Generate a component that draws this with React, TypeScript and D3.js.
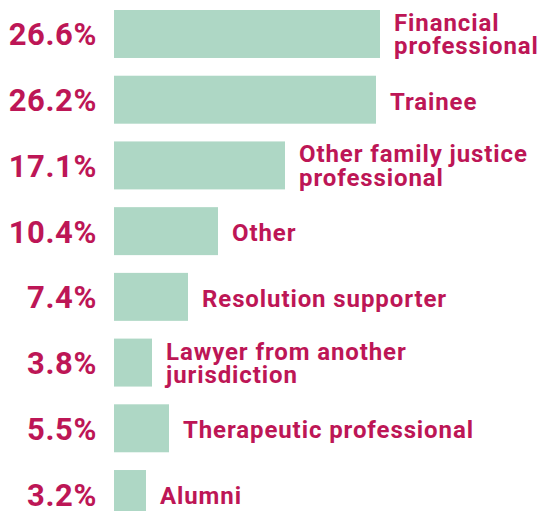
import React from "react";
import * as d3 from "d3";

// chart data
const categories = [
  "Financial professional",
  "Trainee",
  "Other family justice professional",
  "Other",
  "Resolution supporter",
  "Lawyer from another jurisdiction",
  "Therapeutic professional",
  "Alumni",
];
const shares = [26.6, 26.2, 17.1, 10.4, 7.4, 3.8, 5.5, 3.2];
// how each label wraps
const labelLines = [
  ["Financial", "professional"],
  ["Trainee"],
  ["Other family justice", "professional"],
  ["Other"],
  ["Resolution supporter"],
  ["Lawyer from another", "jurisdiction"],
  ["Therapeutic professional"],
  ["Alumni"],
];

const width = 547;
const height = 511;
const barColor = "#aed7c5";
const textColor = "#bd1656";
const font = "Roboto, 'Liberation Sans', sans-serif";

export default function App() {
  const x = d3.scaleLinear().domain([0, 30]).range([114, 414]);
  const y = d3
    .scaleBand<string>()
    .domain(categories)
    .range([10, 518])
    .paddingInner(0.27)
    .paddingOuter(0);
  const bw = y.bandwidth();

  return (
    <svg
      width={width}
      height={height}
      style={{ position: "absolute", left: 0, top: 0, background: "#fff" }}
    >
      {categories.map((c, i) => {
        const top = y(c) as number;
        const mid = top + bw / 2;
        const lines = labelLines[i];
        const end = x(shares[i]);
        return (
          <g key={c}>
            <rect x={x(0)} y={top} width={end - x(0)} height={bw} fill={barColor} />
            <text
              x={97}
              y={mid + 11.5}
              textAnchor="end"
              fill={textColor}
              fontFamily={font}
              fontWeight={700}
              fontSize={31}
              letterSpacing={0.6}
            >
              {shares[i].toFixed(1)}%
            </text>
            <text
              fill={textColor}
              fontFamily={font}
              fontWeight={700}
              fontSize={24}
              letterSpacing={0.9}
            >
              {lines.map((l, j) => (
                <tspan
                  key={j}
                  x={end + 14}
                  y={lines.length === 1 ? mid + 10 : mid - 3 + j * 23.5}
                >
                  {l}
                </tspan>
              ))}
            </text>
          </g>
        );
      })}
    </svg>
  );
}
